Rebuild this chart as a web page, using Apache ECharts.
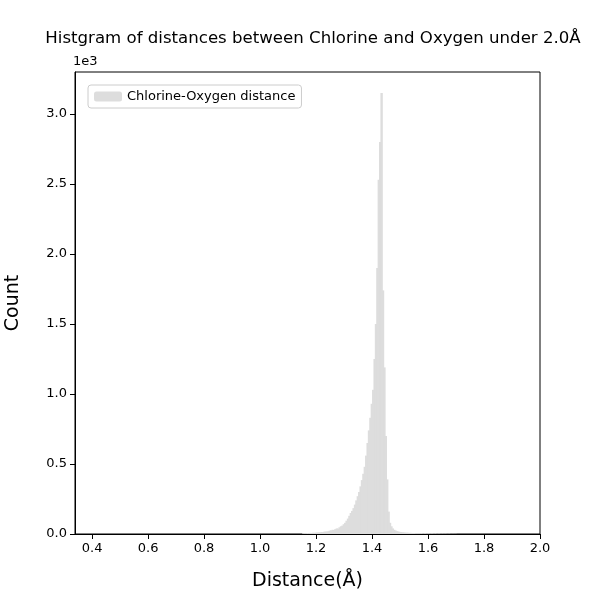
<!DOCTYPE html>
<html><head><meta charset="utf-8">
<script src="https://cdn.jsdelivr.net/npm/echarts@6/dist/echarts.min.js"></script>
<style>html,body{margin:0;background:#fff}#c{width:600px;height:600px}</style>
</head><body><div id="c"></div>
<script>
const binStart = 1.15;
const binWidth = 0.005;
const counts = [
5,6,5,7,6,8,7,9,8,10,
10,12,11,14,13,16,18,17,20,24,
26,30,28,35,40,38,48,55,60,70,
80,95,110,130,150,165,185,210,240,270,
300,340,385,430,480,560,650,740,830,930,
1030,1250,1500,1900,2530,2800,3150,1740,1190,700,
390,160,80,55,40,30,25,20,18,15,
14,12,11,10,9,9,8,8,7,7,
6,6,5,6,5,5,4,5,4,4,4,3,4,3,3,3,2,3,2,2,2,2,2,1,2,1,1,1,1,1];
const xTicks = [0.4,0.6,0.8,1.0,1.2,1.4,1.6,1.8,2.0];
const data = counts.map((c,i)=>[binStart+i*binWidth, binStart+(i+1)*binWidth, c]);
const chart = echarts.init(document.getElementById('c'));
const font = 'DejaVu Sans';
chart.setOption({
  animation:false,
  textStyle:{fontFamily:font},
  title:{text:'Histgram of distances between Chlorine and Oxygen under 2.0Å',left:308,textAlign:'center',top:25,textStyle:{fontSize:16.6,fontWeight:'normal',color:'#000',fontFamily:font}},
  grid:{left:75,right:60,top:72,bottom:66},
  legend:{show:true,left:88,top:85,itemWidth:28,itemHeight:10,data:['Chlorine-Oxygen distance'],
    borderColor:'#ccc',borderWidth:1,borderRadius:3,padding:[5,6],textStyle:{fontSize:13,color:'#000'}},
  xAxis:{type:'value',min:0.339,max:2.0,interval:0.2,name:'Distance(Å)',nameLocation:'middle',nameGap:38,
    nameTextStyle:{fontSize:19,color:'#000'},
    axisLine:{lineStyle:{color:'#000'}},
    axisLabel:{color:'#000',fontSize:13,customValues:xTicks,formatter:v=>v.toFixed(1),showMinLabel:true},
    axisTick:{show:true,customValues:xTicks,lineStyle:{color:'#000'}},
    splitLine:{show:false}},
  yAxis:{type:'value',min:0,max:3300,interval:500,name:'1e3',nameLocation:'end',nameGap:4,
    nameTextStyle:{fontSize:13,color:'#000',align:'left',padding:[0,0,0,-2]},
    axisLine:{show:true,lineStyle:{color:'#000'}},axisTick:{show:true,lineStyle:{color:'#000'}},
    axisLabel:{color:'#000',fontSize:13,showMaxLabel:false,formatter:v=>(v/1000).toFixed(1)},splitLine:{show:false}},
  graphic:[{type:'rect',shape:{x:75,y:72,width:465,height:462},style:{fill:'none',stroke:'#000',lineWidth:1},silent:true},
    {type:'text',rotation:Math.PI/2,style:{text:'Count',fontSize:19,fill:'#000',fontFamily:font,textAlign:'center',textVerticalAlign:'middle'},x:13,y:303}],
  series:[{type:'custom',name:'Chlorine-Oxygen distance',itemStyle:{color:'#dddddd'},
    encode:{x:[0,1],y:2},
    renderItem:(p,api)=>{
      const a=api.coord([api.value(0),api.value(2)]);
      const b=api.coord([api.value(1),0]);
      return {type:'rect',shape:{x:a[0],y:a[1],width:b[0]-a[0]+1,height:b[1]-a[1]},style:{fill:'#dddddd'}};
    },data:data}]
});
</script></body></html>
